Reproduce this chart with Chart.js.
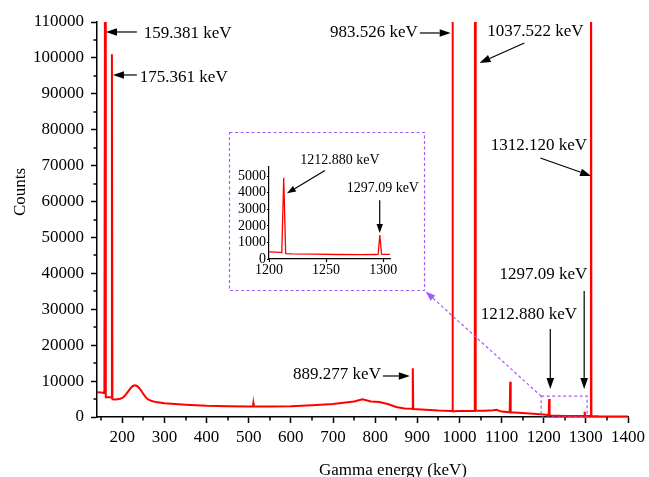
<!DOCTYPE html>
<html>
<head>
<meta charset="utf-8">
<script src="https://cdn.jsdelivr.net/npm/chart.js@4.4.0/dist/chart.umd.min.js"></script>
<style>
body { margin: 0; background: #fff; }
#wrap { position: relative; width: 649px; height: 477px; }
#inset { position: absolute; left: 230px; top: 133px; }
</style>
</head>
<body>
<div id="wrap">
<canvas id="spectrum" width="649" height="477"></canvas>
<canvas id="inset" width="193" height="156"></canvas>
</div>
<script>
// spectrum (keV / counts)
const energy = [140, 150, 157.5, 159.4, 160.8, 170, 174.2, 175.4, 176.6, 185, 195, 200, 205, 210, 215, 220, 225, 230, 235, 240, 245, 250, 255, 260, 265, 270, 280, 300, 350, 400, 450, 500, 510, 511, 512, 550, 600, 650, 700, 750, 770, 790, 810, 830, 850, 870, 888, 889.3, 890.5, 920, 950, 982.4, 983.5, 984.6, 1000, 1036.4, 1037.5, 1038.6, 1060, 1080, 1088, 1100, 1119.3, 1120.5, 1121.7, 1150, 1200, 1211.8, 1212.9, 1214, 1250, 1296, 1297.1, 1298.2, 1311, 1312.1, 1313.2, 1330, 1400];
const counts = [6900, 6850, 6700, 160000, 5500, 5500, 5450, 101000, 4900, 4850, 5100, 5300, 5800, 6500, 7300, 8100, 8650, 8850, 8650, 8100, 7300, 6400, 5600, 5000, 4700, 4450, 4150, 3800, 3400, 3100, 3000, 2900, 2900, 3800, 2900, 2900, 3000, 3300, 3600, 4300, 4900, 4300, 4200, 3600, 2800, 2400, 2300, 13600, 2200, 2000, 1800, 1700, 300000, 1600, 1650, 1700, 300000, 1800, 1750, 1900, 2000, 1500, 1300, 9800, 1300, 1100, 700, 500, 5000, 400, 300, 250, 1450, 250, 300, 200000, 300, 200, 150];

const insetEnergy = [1200, 1205, 1210, 1211.2, 1212.9, 1214.6, 1220, 1240, 1260, 1280, 1294, 1295.6, 1297.1, 1298.6, 1300, 1306];
const insetCounts = [430, 420, 400, 380, 4900, 330, 310, 290, 270, 260, 270, 290, 1450, 290, 280, 280];

const xTickValues = [200, 300, 400, 500, 600, 700, 800, 900, 1000, 1100, 1200, 1300, 1400];
const yTickValues = [0, 10000, 20000, 30000, 40000, 50000, 60000, 70000, 80000, 90000, 100000, 110000];
const insetXTicks = [1200, 1250, 1300];
const insetYTicks = [0, 1000, 2000, 3000, 4000, 5000];

// labels: text anchor and arrow tail/head, all in data units
const peakLabels = [
  { text: '159.381 keV', at: [251.1, 106660], align: 'left', from: [234.6, 107220], to: [161.3, 107220] },
  { text: '175.361 keV', at: [241.7, 94410], align: 'left', from: [234.6, 95250], to: [177.8, 95250] },
  { text: '983.526 keV', at: [901.2, 106940], align: 'right', from: [906, 106940], to: [979.2, 106940] },
  { text: '1037.522 keV', at: [1180.2, 107220], align: 'center', from: [1154.1, 104160], to: [1047.7, 98590] },
  { text: '1312.120 keV', at: [1188.4, 75470], align: 'center', from: [1192.0, 72130], to: [1312.5, 67120] },
  { text: '1297.09 keV', at: [1199.0, 39550], align: 'center', from: [1296.0, 35090], to: [1296.0, 7800] },
  { text: '1212.880 keV', at: [1164.8, 28410], align: 'center', from: [1215.6, 24510], to: [1215.6, 7800] },
  { text: '889.277 keV', at: [813.7, 11700], align: 'right', from: [818.4, 11420], to: [882.3, 11420] }
];
const insetLabels = [
  { text: '1212.880 keV', at: [1262.1, 5940], align: 'center', from: [1249.0, 5340], to: [1215.7, 3965] },
  { text: '1297.09 keV', at: [1299.7, 4264], align: 'center', from: [1297.0, 3547], to: [1297.0, 1573] }
];
const zoomRange = [1194, 1303, 0, 5800];

const serif = "'Liberation Serif', 'Times New Roman', serif";
const purple = '#a25bff';
const insetBox = { left: 229.5, top: 132.5, right: 424.5, bottom: 290.5 };

function arrow(ctx, x1, y1, x2, y2, color, len, half) {
  const a = Math.atan2(y2 - y1, x2 - x1);
  const bx = x2 - len * Math.cos(a), by = y2 - len * Math.sin(a);
  ctx.beginPath();
  ctx.moveTo(x1, y1);
  ctx.lineTo(bx, by);
  ctx.stroke();
  ctx.save();
  ctx.setLineDash([]);
  ctx.fillStyle = color;
  ctx.beginPath();
  ctx.moveTo(x2, y2);
  ctx.lineTo(bx + half * Math.sin(a), by - half * Math.cos(a));
  ctx.lineTo(bx - half * Math.sin(a), by + half * Math.cos(a));
  ctx.closePath();
  ctx.fill();
  ctx.restore();
}

function drawLabels(chart, list, size, len, half) {
  const ctx = chart.ctx, xs = chart.scales.x, ys = chart.scales.y;
  ctx.save();
  ctx.font = size + 'px ' + serif;
  ctx.fillStyle = '#000';
  ctx.strokeStyle = '#000';
  ctx.lineWidth = 1.2;
  ctx.textBaseline = 'middle';
  list.forEach(l => {
    ctx.textAlign = l.align;
    ctx.fillText(l.text, xs.getPixelForValue(l.at[0]), ys.getPixelForValue(l.at[1]));
    arrow(ctx, xs.getPixelForValue(l.from[0]), ys.getPixelForValue(l.from[1]),
      xs.getPixelForValue(l.to[0]), ys.getPixelForValue(l.to[1]), '#000', len, half);
  });
  ctx.restore();
}

const mainExtras = {
  id: 'mainExtras',
  afterDraw(chart) {
    const ctx = chart.ctx, xs = chart.scales.x, ys = chart.scales.y;
    const area = chart.chartArea;
    ctx.save();
    // minor ticks
    ctx.strokeStyle = '#000';
    ctx.lineWidth = 1.5;
    ctx.beginPath();
    for (let v = 150; v < 1400; v += 100) {
      const p = Math.round(xs.getPixelForValue(v));
      ctx.moveTo(p, area.bottom);
      ctx.lineTo(p, area.bottom + 3.5);
    }
    for (let v = 5000; v < 110000; v += 10000) {
      const p = Math.round(ys.getPixelForValue(v));
      ctx.moveTo(area.left, p);
      ctx.lineTo(area.left - 3.5, p);
    }
    ctx.stroke();

    // axis titles
    ctx.fillStyle = '#000';
    ctx.font = '17px ' + serif;
    ctx.textAlign = 'center';
    ctx.textBaseline = 'alphabetic';
    ctx.fillText('Gamma energy (keV)', 393, 475);
    ctx.save();
    ctx.translate(25, 192);
    ctx.rotate(-Math.PI / 2);
    ctx.fillText('Counts', 0, 0);
    ctx.restore();

    // zoom box and inset frame
    ctx.strokeStyle = purple;
    ctx.lineWidth = 1.2;
    ctx.setLineDash([3, 2.5]);
    const zl = xs.getPixelForValue(zoomRange[0]), zr = xs.getPixelForValue(zoomRange[1]);
    const zb = ys.getPixelForValue(zoomRange[2]), zt = ys.getPixelForValue(zoomRange[3]);
    ctx.strokeRect(zl, zt, zr - zl, zb - zt);
    ctx.strokeRect(insetBox.left, insetBox.top, insetBox.right - insetBox.left, insetBox.bottom - insetBox.top);
    arrow(ctx, zl, zt, insetBox.right + 1, insetBox.bottom + 1, purple, 10, 3.5);
    ctx.restore();

    drawLabels(chart, peakLabels, 17, 11, 3.8);
  }
};

new Chart(document.getElementById('spectrum'), {
  type: 'line',
  data: {
    datasets: [{
      data: energy.map((e, i) => ({ x: e, y: counts[i] })),
      borderColor: '#ff0000',
      borderWidth: 2,
      pointRadius: 0,
      tension: 0
    }]
  },
  options: {
    responsive: false,
    animation: false,
    layout: { padding: { top: 22, right: 19, left: 0, bottom: 0 } },
    plugins: { legend: { display: false }, tooltip: { enabled: false } },
    scales: {
      x: {
        type: 'linear',
        min: 140,
        max: 1400,
        afterFit: s => { s.height = 60; },
        afterBuildTicks: s => { s.ticks = xTickValues.map(v => ({ value: v })); },
        border: { color: '#000', width: 1.5 },
        grid: { drawOnChartArea: false, color: '#000', tickLength: 6, tickWidth: 1.5 },
        ticks: { color: '#000', font: { family: serif, size: 17 }, padding: 4, maxRotation: 0, autoSkip: false, callback: v => String(v) }
      },
      y: {
        min: 0,
        max: 110000,
        afterFit: s => { s.width = 97; },
        afterBuildTicks: s => { s.ticks = yTickValues.map(v => ({ value: v })); },
        border: { color: '#000', width: 1.5 },
        grid: { drawOnChartArea: false, color: '#000', tickLength: 6, tickWidth: 1.5 },
        ticks: { color: '#000', font: { family: serif, size: 17 }, padding: 7, autoSkip: false, callback: v => String(v) }
      }
    }
  },
  plugins: [mainExtras]
});

const insetExtras = {
  id: 'insetExtras',
  afterDraw(chart) {
    drawLabels(chart, insetLabels, 14, 9, 3.2);
  }
};

new Chart(document.getElementById('inset'), {
  type: 'line',
  data: {
    datasets: [{
      data: insetEnergy.map((e, i) => ({ x: e, y: insetCounts[i] })),
      borderColor: '#ff0000',
      borderWidth: 1.3,
      pointRadius: 0,
      tension: 0
    }]
  },
  options: {
    responsive: false,
    animation: false,
    layout: { padding: { top: 34, right: 33, left: 0, bottom: 0 } },
    plugins: { legend: { display: false }, tooltip: { enabled: false } },
    scales: {
      x: {
        type: 'linear',
        min: 1200,
        max: 1306,
        afterFit: s => { s.height = 30; },
        afterBuildTicks: s => { s.ticks = insetXTicks.map(v => ({ value: v })); },
        border: { color: '#000', width: 1.2 },
        grid: { drawOnChartArea: false, color: '#000', tickLength: 3, tickWidth: 1.2 },
        ticks: { color: '#000', font: { family: serif, size: 14 }, padding: 0, maxRotation: 0, autoSkip: false, callback: v => String(v) }
      },
      y: {
        min: 0,
        max: 5550,
        afterFit: s => { s.width = 39; },
        afterBuildTicks: s => { s.ticks = insetYTicks.map(v => ({ value: v })); },
        border: { color: '#000', width: 1.2 },
        grid: { drawOnChartArea: false, color: '#000', tickLength: 2, tickWidth: 1.2 },
        ticks: { color: '#000', font: { family: serif, size: 14 }, padding: 1, autoSkip: false, callback: v => String(v) }
      }
    }
  },
  plugins: [insetExtras]
});
</script>
</body>
</html>
